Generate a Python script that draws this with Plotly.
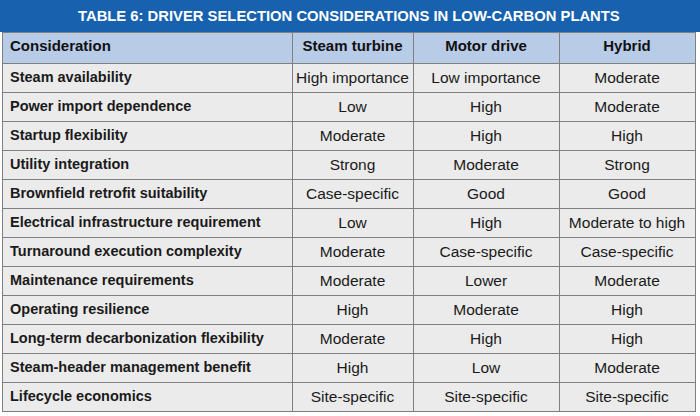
import plotly.graph_objects as go

title = "TABLE 6: DRIVER SELECTION CONSIDERATIONS IN LOW-CARBON PLANTS"
headers = ["Consideration", "Steam turbine", "Motor drive", "Hybrid"]

considerations = [
    "Steam availability", "Power import dependence", "Startup flexibility",
    "Utility integration", "Brownfield retrofit suitability",
    "Electrical infrastructure requirement", "Turnaround execution complexity",
    "Maintenance requirements", "Operating resilience",
    "Long-term decarbonization flexibility", "Steam-header management benefit",
    "Lifecycle economics",
]
steam_turbine = [
    "High importance", "Low", "Moderate", "Strong", "Case-specific", "Low",
    "Moderate", "Moderate", "High", "Moderate", "High", "Site-specific",
]
motor_drive = [
    "Low importance", "High", "High", "Moderate", "Good", "High",
    "Case-specific", "Lower", "Moderate", "High", "Low", "Site-specific",
]
hybrid = [
    "Moderate", "Moderate", "High", "Strong", "Good", "Moderate to high",
    "Case-specific", "Moderate", "High", "High", "Moderate", "Site-specific",
]

FONT = "Liberation Sans, Arial, sans-serif"
W, H = 700, 416
TOP = 32


def nowrap(items):
    # non-breaking spaces: no wrapping, rows keep their set height
    return [s.replace(" ", "\u00a0") for s in items]


fig = go.Figure(go.Table(
    columnwidth=[290, 121, 146, 136],
    header=dict(
        values=nowrap(headers),
        align=["left", "center", "center", "center"],
        fill_color="#b8cbe7",
        line_color="#7f7f7f",
        font=dict(family=FONT, size=15, color="#111111", weight="bold"),
        height=31,
    ),
    cells=dict(
        values=[nowrap(considerations), nowrap(steam_turbine),
                nowrap(motor_drive), nowrap(hybrid)],
        align=["left", "center", "center", "center"],
        fill_color="#ebebeb",
        line_color="#7f7f7f",
        font=dict(family=FONT, size=[14.5, 15.5, 15.5, 15.5], color="#1a1a1a",
                  weight=["bold", "normal", "normal", "normal"]),
        height=29,
    ),
))

# title bar above the table
fig.add_shape(type="rect", xref="paper", yref="paper",
              x0=-0.01, x1=1.01, y0=1.0, y1=1 + TOP / (H - TOP),
              fillcolor="#1761ae", line_width=0, layer="below")
fig.add_annotation(text="<b>%s</b>" % title, xref="paper", yref="paper",
                   x=0.5, y=1 + (TOP / 2) / (H - TOP), yanchor="middle",
                   showarrow=False,
                   font=dict(family=FONT, size=14.8, color="white"))

fig.update_layout(
    width=W, height=H,
    margin=dict(l=2, r=5, t=TOP, b=0),
    paper_bgcolor="white",
)

fig.write_html("out.html", config={"displayModeBar": False},
               post_script="document.body.style.margin='0';")
